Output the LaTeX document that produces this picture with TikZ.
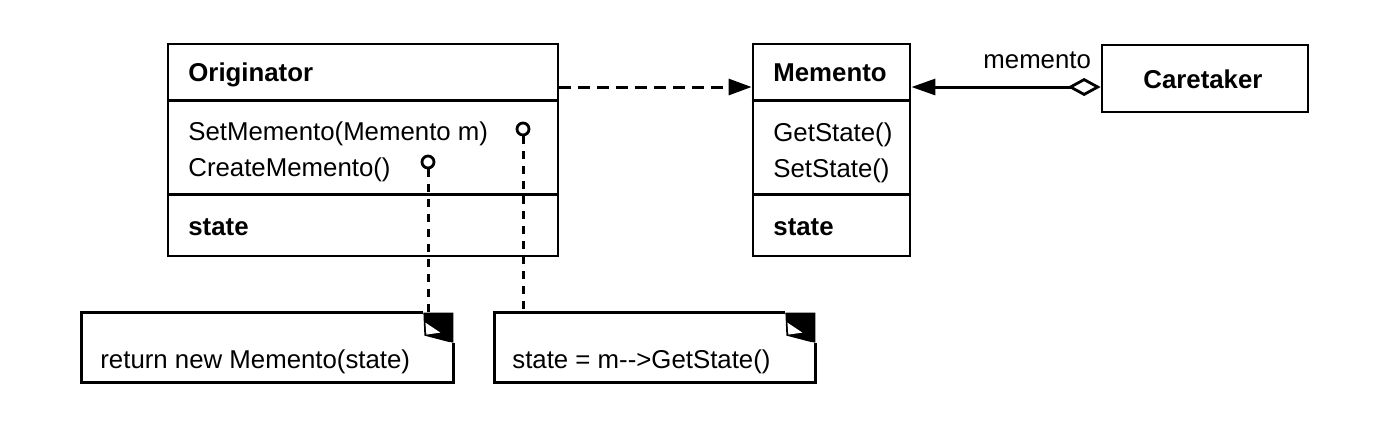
\documentclass[tikz,border=0pt]{standalone}
\usepackage{fontspec}
\setmainfont{Liberation Sans}
\usetikzlibrary{calc,arrows.meta}
\newcommand\drawnote[1]{%
  \draw[line width=1.4pt] ($(#1.north east)+(-30,0)$) -- (#1.north west) -- (#1.south west) -- (#1.south east) -- ($(#1.north east)+(0,30)$);
  \fill ($(#1.north east)+(-30,0)$) -- (#1.north east) -- ($(#1.north east)+(0,30)$) -- ($(#1.north east)+(-6,29)$) -- ($(#1.north east)+(-29,23)$) -- cycle;
  \fill[white] ($(#1.north east)+(-28,10)$) -- ($(#1.north east)+(-13,20)$) -- ($(#1.north east)+(-27,22)$) -- cycle;
}
\begin{document}
\begin{tikzpicture}[x=0.5pt,y=-0.5pt,
  font=\fontsize{12.9}{15}\selectfont,
  box/.style={draw, line width=1.4pt, inner sep=0pt},
  divider/.style={line width=1.4pt},
  txt/.style={anchor=base west, inner sep=0pt},
  conn/.style={line width=1.5pt},
  pindash/.style={line width=1.5pt, dash pattern=on 4pt off 3.5pt},
  pin/.style={circle, draw, line width=1.4pt, inner sep=0pt, minimum size=6pt, fill=white},
  notebox/.style={inner sep=0pt}
]
\useasboundingbox (0,0) rectangle (1385,447);

% classes
\node[box, minimum width=195pt, minimum height=106pt] (orig) at (363,150) {};
\draw[divider] ($(orig.north west)+(0,58)$) -- ($(orig.north east)+(0,58)$);
\draw[divider] ($(orig.north west)+(0,152)$) -- ($(orig.north east)+(0,152)$);
\node[txt] (origname) at (188,81) {\bfseries Originator};
\node[txt] (origm1) at (188,140) {SetMemento(Memento m)};
\node[txt] (origm2) at (188,176) {CreateMemento()};
\node[txt] (origa) at (188,235) {\bfseries state};

\node[box, minimum width=78.5pt, minimum height=106pt] (mem) at (831.5,150) {};
\draw[divider] ($(mem.north west)+(0,58)$) -- ($(mem.north east)+(0,58)$);
\draw[divider] ($(mem.north west)+(0,152)$) -- ($(mem.north east)+(0,152)$);
\node[txt] (memname) at (773,81) {\bfseries Memento};
\node[txt] (memm1) at (773,141) {GetState()};
\node[txt] (memm2) at (773,177) {SetState()};
\node[txt] (mema) at (773,235) {\bfseries state};

\node[box, minimum width=103pt, minimum height=33.5pt] (care) at (1205,78.5) {};
\node[txt] (carename) at (1143,88) {\bfseries Caretaker};

% notes
\node[notebox, minimum width=185.5pt, minimum height=34.5pt] (n1) at (267.5,347.5) {};
\drawnote{n1}
\node[txt] (n1t) at (100,368) {return new Memento(state)};
\node[notebox, minimum width=160pt, minimum height=34.5pt] (n2) at (655,347.5) {};
\drawnote{n2}
\node[txt] (n2t) at (512,368) {state = m-{}->GetState()};

% connectors
\coordinate (a1) at (0,87);
\draw[conn, dash pattern=on 6pt off 3.5pt, -{Triangle[length=11.5pt,width=8pt]}] (orig.east |- a1) -- (mem.west |- a1);
\draw[conn, {Diamond[open,length=16.5pt,width=9pt,line width=1.4pt]}-{Triangle[length=12pt,width=8pt]}] (care.west |- a1) -- (mem.east |- a1);
\node[txt] (lbl) at (983,68) {memento};

% pins
\node[pin] (p1) at (523,129) {};
\node[pin] (p2) at (428,162) {};
\draw[pindash] (p1.south) -- (p1.south |- n2.north);
\draw[pindash] (p2.south) -- (p2.south |- n1.north);
\end{tikzpicture}
\end{document}
